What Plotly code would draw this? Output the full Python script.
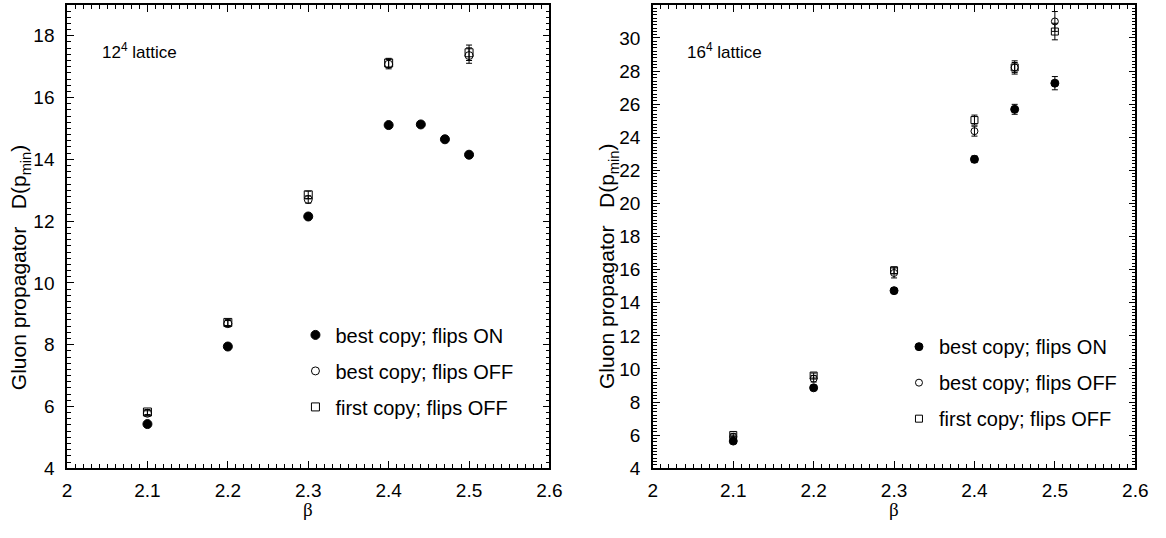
import plotly.graph_objects as go
from plotly.subplots import make_subplots

# ---------------- data ----------------
beta_on_12 = [2.1, 2.2, 2.3, 2.4, 2.44, 2.47, 2.5]
D_on_12 = [5.43, 7.94, 12.15, 15.11, 15.13, 14.65, 14.15]
err_on_12 = [0.05, 0.05, 0.06, 0.06, 0.06, 0.06, 0.06]

beta_off_12 = [2.1, 2.2, 2.3, 2.4, 2.5]
D_bestoff_12 = [5.78, 8.68, 12.70, 17.08, 17.36]
err_bestoff_12 = [0.08, 0.10, 0.12, 0.15, 0.25]
D_firstoff_12 = [5.82, 8.72, 12.85, 17.12, 17.45]
err_firstoff_12 = [0.08, 0.10, 0.12, 0.15, 0.25]

beta_16 = [2.1, 2.2, 2.3, 2.4, 2.45, 2.5]
D_on_16 = [5.64, 8.86, 14.73, 22.67, 25.69, 27.27]
err_on_16 = [0.10, 0.10, 0.12, 0.20, 0.30, 0.40]
D_bestoff_16 = [5.90, 9.41, 15.80, 24.37, 28.22, 31.00]
err_bestoff_16 = [0.10, 0.20, 0.30, 0.30, 0.40, 0.60]
D_firstoff_16 = [6.01, 9.60, 15.96, 25.04, 28.22, 30.39]
err_firstoff_16 = [0.10, 0.15, 0.20, 0.30, 0.30, 0.50]

names = ["best copy; flips ON", "best copy; flips OFF", "first copy; flips OFF"]

FONT = "Liberation Sans, Arial, sans-serif"

fig = make_subplots(rows=1, cols=2)

def add_series(x, y, e, name, symbol, size, col, legend, group, rank):
    fig.add_trace(go.Scatter(
        x=x, y=y, mode="markers", name=name, legend=legend, legendgroup=group,
        legendrank=rank,
        marker=dict(symbol=symbol, size=size, color="black",
                    line=dict(color="black", width=1)),
        error_y=dict(type="data", array=e, visible=True, color="black",
                     thickness=1, width=3),
    ), row=1, col=col)

add_series(beta_off_12, D_firstoff_12, err_firstoff_12, names[2], "square-open", 8, 1, "legend", "a3", 3)
add_series(beta_off_12, D_bestoff_12, err_bestoff_12, names[1], "circle-open", 8, 1, "legend", "a2", 2)
add_series(beta_on_12, D_on_12, err_on_12, names[0], "circle", 9, 1, "legend", "a1", 1)

add_series(beta_16, D_firstoff_16, err_firstoff_16, names[2], "square-open", 7, 2, "legend2", "b3", 3)
add_series(beta_16, D_bestoff_16, err_bestoff_16, names[1], "circle-open", 7, 2, "legend2", "b2", 2)
add_series(beta_16, D_on_16, err_on_16, names[0], "circle", 8, 2, "legend2", "b1", 1)

W, H = 1166, 538
x1 = [63 / W, 553 / W]
x2 = [658 / W, 1148 / W]
yd = [1 - 478 / H, 1 - 5 / H]

common_x = dict(range=[2, 2.6], dtick=0.1, tick0=2, ticks="inside", ticklen=7,
                tickwidth=1, tickcolor="black", showline=True, linecolor="black",
                linewidth=1.5, mirror="allticks", showgrid=False, zeroline=False,
                ticklabelstandoff=4,
                tickfont=dict(family=FONT, size=19, color="black"),
                minor=dict(dtick=0.01, ticks="inside", ticklen=4, tickcolor="black",
                           showgrid=False))
common_y = dict(ticks="inside", ticklen=7, tickwidth=1, tickcolor="black",
                showline=True, linecolor="black", linewidth=1.5, mirror="allticks",
                showgrid=False, zeroline=False, ticklabelstandoff=7,
                tickfont=dict(family=FONT, size=19, color="black"),
                minor=dict(dtick=0.2, ticks="inside", ticklen=4, tickcolor="black",
                           showgrid=False))

fig.update_xaxes(domain=x1, **common_x, row=1, col=1)
fig.update_xaxes(domain=x2, **common_x, row=1, col=2)
fig.update_yaxes(domain=yd, range=[4, 19], dtick=2, tick0=4, **common_y, row=1, col=1)
fig.update_yaxes(domain=yd, range=[4, 32], dtick=2, tick0=4, **common_y, row=1, col=2)

legend_style = dict(bgcolor="rgba(0,0,0,0)", borderwidth=0,
                    font=dict(family=FONT, size=20, color="black"),
                    traceorder="grouped", tracegroupgap=7, itemwidth=30,
                    xanchor="left", yanchor="top")

ytitle = "Gluon propagator&nbsp;&nbsp; D(p<sub>min</sub>)"
annotations = [
    dict(text="12<sup>4</sup> lattice", x=96 / W, y=1 - 52 / H, xref="paper", yref="paper",
         xanchor="left", yanchor="middle", showarrow=False,
         font=dict(family=FONT, size=17, color="black")),
    dict(text="16<sup>4</sup> lattice", x=691 / W, y=1 - 52 / H, xref="paper", yref="paper",
         xanchor="left", yanchor="middle", showarrow=False,
         font=dict(family=FONT, size=17, color="black")),
    dict(text=ytitle, x=16 / W, y=1 - 273 / H,
         xref="paper", yref="paper", textangle=-90, showarrow=False,
         xanchor="center", yanchor="middle", font=dict(family=FONT, size=21, color="black")),
    dict(text=ytitle, x=613 / W, y=1 - 272 / H,
         xref="paper", yref="paper", textangle=-90, showarrow=False,
         xanchor="center", yanchor="middle", font=dict(family=FONT, size=21, color="black")),
    dict(text="β", x=308 / W, y=1 - 520 / H, xref="paper", yref="paper",
         showarrow=False, xanchor="center", yanchor="middle",
         font=dict(family="Liberation Serif, serif", size=19, color="black")),
    dict(text="β", x=903 / W, y=1 - 520 / H, xref="paper", yref="paper",
         showarrow=False, xanchor="center", yanchor="middle",
         font=dict(family="Liberation Serif, serif", size=19, color="black")),
]

fig.update_layout(
    width=W, height=H, margin=dict(l=0, r=0, t=0, b=0),
    paper_bgcolor="white", plot_bgcolor="white",
    showlegend=True,
    legend=dict(x=295 / W, y=1 - 322 / H, **legend_style),
    legend2=dict(x=908 / W, y=1 - 334 / H, **legend_style),
    annotations=annotations,
)

fig.write_html("out.html")
